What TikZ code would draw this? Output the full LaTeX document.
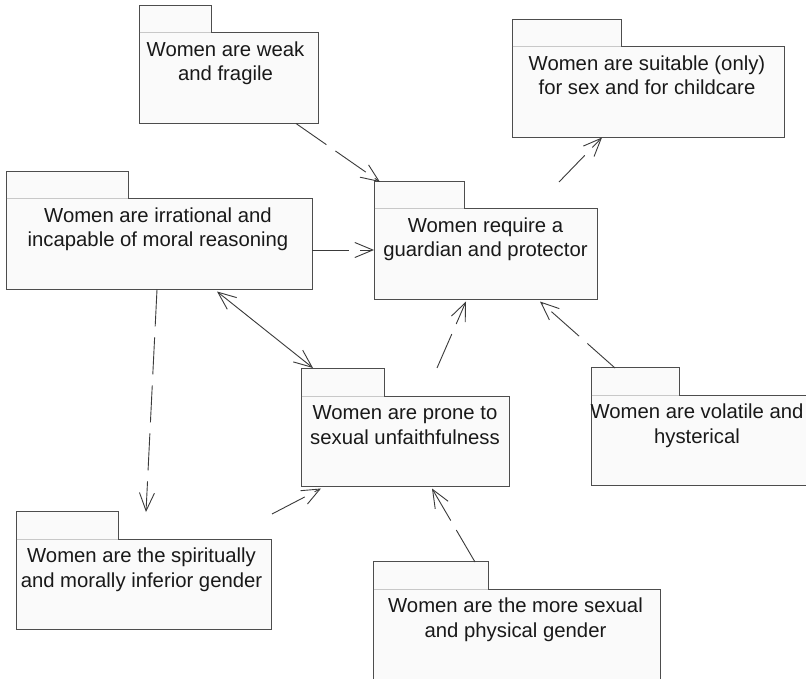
\documentclass[tikz,border=0pt]{standalone}
\usepackage{fontspec}
\setmainfont{Liberation Sans}
\usetikzlibrary{arrows.meta,calc}

\definecolor{edge}{HTML}{4D4D4D}
\definecolor{paper}{HTML}{FAFAFA}
\definecolor{seam}{HTML}{C8C8C8}
\definecolor{wire}{HTML}{3A3A3A}

\tikzset{
  pkgbody/.style={draw=edge, fill=paper, line width=1pt, rectangle,
    inner sep=0pt, outer sep=0pt, anchor=north west, minimum height=90.5pt},
  pkgtab/.style={draw=edge, fill=paper, line width=1pt, rectangle,
    inner sep=0pt, outer sep=0pt, anchor=south west, minimum height=27.5pt},
  pkgtext/.style={align=center, inner sep=0pt, anchor=base,
    font=\fontsize{20.3}{24.5}\selectfont, text=black!90},
  barb/.tip={Straight Barb[length=18pt,width=15pt,line width=0.9pt]},
  dep/.style={draw=wire, line width=0.9pt, dash pattern=on 37pt off 11pt, -barb},
  assoc/.style={draw=wire, line width=0.9pt, barb-barb},
}

% draw a package: body, tab on top-left, light seam under the tab, centred title
% (the base anchor of a two-line title sits on its second line)
\newcommand{\package}[7]{%
  % #1 name, #2 x, #3 y, #4 body width, #5 tab width, #6 text x-offset, #7 text
  \node[pkgbody, minimum width=#4pt] (#1) at (#2,#3) {};
  \node[pkgtab, minimum width=#5pt] (#1T) at (#1.north west) {};
  \draw[seam, line width=1pt] ([xshift=0.5pt]#1.north west) -- ([xshift=-0.5pt]#1T.south east);
  \node[pkgtext] (#1L) at ($(#1.north)+(#6,48)$) {#7};
}

\begin{document}
\begin{tikzpicture}[x=1pt, y=-1pt]
\useasboundingbox[fill=white] (0,0) rectangle (806,679);
\clip (0,0) rectangle (806,679);

\package{weak}{139}{33}{179}{72}{-3}{Women are weak\\and fragile}
\package{suit}{512}{47}{272}{109}{-1}{Women are suitable (only)\\for sex and for childcare}
\package{irr}{6}{199}{306}{122}{-1}{Women are irrational and\\incapable of moral reasoning}
\package{guard}{374}{209}{223}{90}{0}{Women require a\\guardian and protector}
\package{prone}{301}{396}{208}{83}{0}{Women are prone to\\sexual unfaithfulness}
\package{vol}{591}{395}{222}{88}{-5}{Women are volatile and\\hysterical}
\package{spir}{16}{539}{255}{102}{-2}{Women are the spiritually\\and morally inferior gender}
\package{sex}{373}{589}{287}{115}{-1}{Women are the more sexual\\and physical gender}

% dependencies
\draw[dep] ($(weak.south west)+(157,0)$) -- ($(guard.north west)+(6,-27)$);
\draw[dep] ($(guard.north west)+(185,-27)$) -- ($(suit.south west)+(90,0)$);
\draw[dep] ($(irr.north east)+(0,51)$) -- ($(guard.north west)+(0,41)$);
\draw[dep] ($(irr.south west)+(151,0)$) -- ($(spir.north west)+(130,-27)$);
\draw[dep] ($(prone.north west)+(136,-28)$) -- ($(guard.south west)+(92,2)$);
\draw[dep] ($(vol.north west)+(24,-27)$) -- ($(guard.south west)+(166,2)$);
\draw[dep] ($(spir.north east)+(1,-25)$) -- ($(prone.south west)+(20,2)$);
\draw[dep] ($(sex.north west)+(102,-27)$) -- ($(prone.south west)+(131,2)$);

% association
\draw[assoc] ($(irr.south west)+(211,2)$) -- ($(prone.north west)+(12,-28)$);
\end{tikzpicture}
\end{document}
